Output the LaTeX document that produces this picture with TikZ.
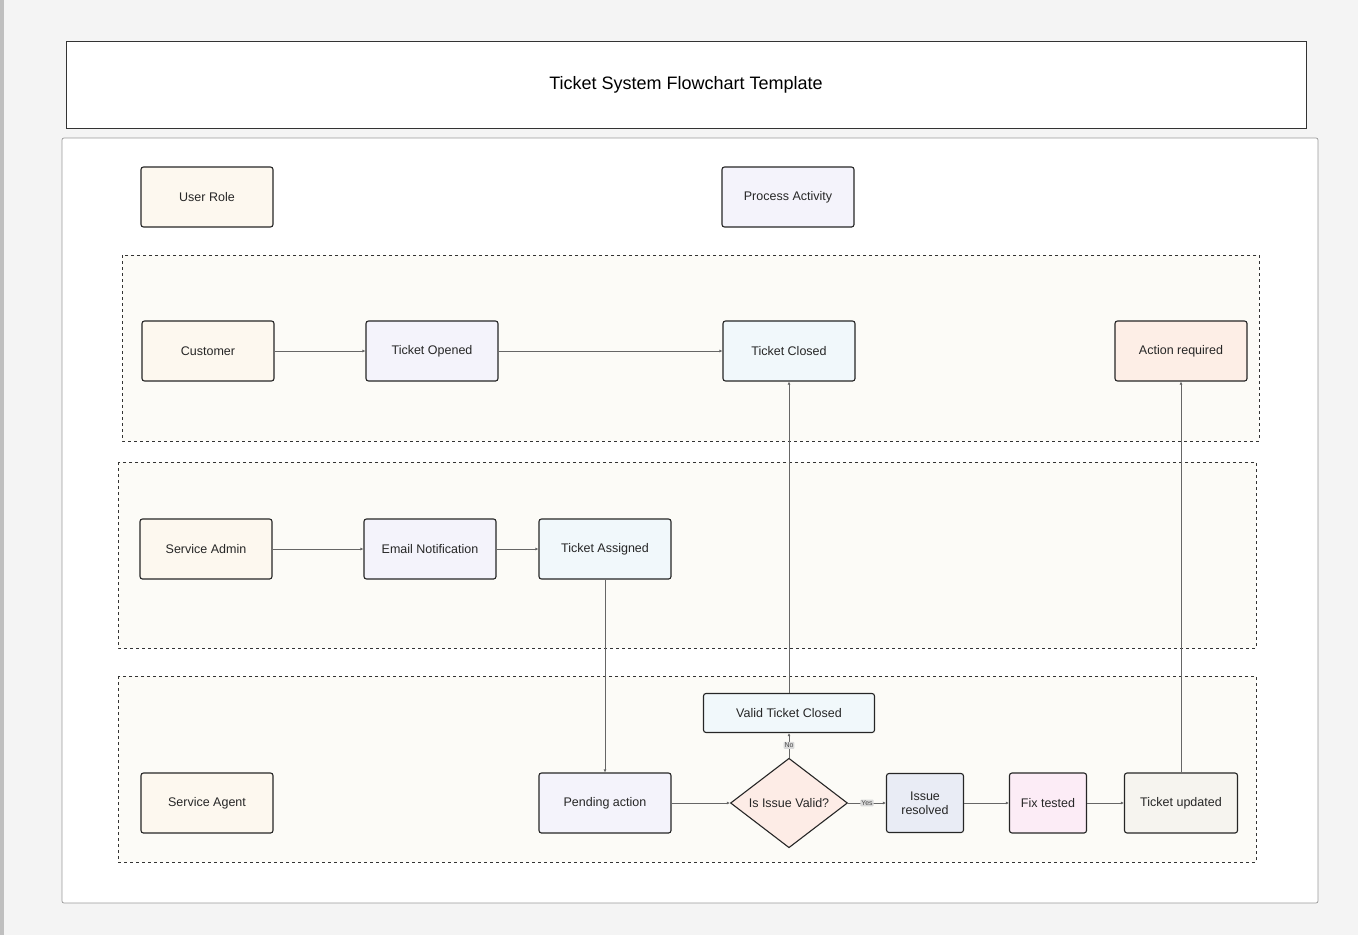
\documentclass[tikz,border=0pt]{standalone}
\usepackage{fontspec}
\setmainfont{Liberation Sans}
\usetikzlibrary{shapes.geometric,arrows.meta}
\definecolor{bg}{HTML}{F4F4F4}
\definecolor{lane}{HTML}{FCFBF7}
\definecolor{cA}{HTML}{FDF8EF}
\definecolor{cB}{HTML}{F4F3FB}
\definecolor{cC}{HTML}{F1F8FB}
\definecolor{cD}{HTML}{FDEEE6}
\definecolor{cE}{HTML}{E9ECF5}
\definecolor{cF}{HTML}{FCECF6}
\definecolor{cG}{HTML}{F6F4EF}
\definecolor{cH}{HTML}{FDECE6}
\begin{document}
\begin{tikzpicture}[x=1pt,y=-1pt,
 box/.style={draw=black!85,line width=1.1pt,rounded corners=2.5pt,minimum width=132pt,minimum height=60pt,inner sep=2pt,font=\fontsize{12.5}{14}\selectfont,text=black!85,align=center},
 lanebox/.style={draw=black!80,dashed,line width=0.8pt,fill=lane},
 con/.style={draw=black!60,line width=0.7pt,-{Latex[length=3pt,width=3pt]}},
 lbl/.style={fill=black!15,rounded corners=1pt,inner sep=1pt,font=\fontsize{7}{8}\selectfont,text=black!70}]
\useasboundingbox (0,0) rectangle (1358,935);
\fill[bg] (0,0) rectangle (1358,935);
\fill[black!25] (0,0) rectangle (4,935);
\draw[black!80,line width=1pt,fill=white] (66,41) rectangle (1306,128);
\node[font=\fontsize{18}{20}\selectfont] (title) at (686,85) {Ticket System Flowchart Template};
\draw[black!40,line width=0.7pt,fill=white,rounded corners=2pt] (62,138) rectangle (1318,903);
\draw[lanebox] (122,255) rectangle (1259,441);
\draw[lanebox] (118,462) rectangle (1256,648);
\draw[lanebox] (118,676) rectangle (1256,862);
\node[box,fill=cA] (role) at (207,197) {User Role};
\node[box,fill=cB] (proc) at (788,197) {Process Activity};
\node[box,fill=cA] (cust) at (208,351) {Customer};
\node[box,fill=cB] (open) at (432,351) {Ticket Opened};
\node[box,fill=cC] (closed) at (789,351) {Ticket Closed};
\node[box,fill=cD] (action) at (1181,351) {Action required};
\node[box,fill=cA] (admin) at (206,549) {Service Admin};
\node[box,fill=cB] (email) at (430,549) {Email Notification};
\node[box,fill=cC] (assigned) at (605,549) {Ticket Assigned};
\node[box,fill=cC,minimum width=171pt,minimum height=39pt] (valid) at (789,713) {Valid Ticket Closed};
\node[box,fill=cA] (agent) at (207,803) {Service Agent};
\node[box,fill=cB] (pending) at (605,803) {Pending action};
\node[diamond,draw=black!85,line width=1.1pt,fill=cH,minimum width=117pt,minimum height=68pt,inner sep=0pt,font=\fontsize{12.5}{14}\selectfont,text=black!85] (dec) at (789,803) {Is Issue Valid?};
\node[box,fill=cE,minimum width=77pt,minimum height=59pt] (res) at (925,803) {Issue\\resolved};
\node[box,fill=cF,minimum width=77pt] (fix) at (1048,803) {Fix tested};
\node[box,fill=cG,minimum width=113pt] (upd) at (1181,803) {Ticket updated};
\draw[con] (cust) -- (open);
\draw[con] (open) -- (closed);
\draw[con] (admin) -- (email);
\draw[con] (email) -- (assigned);
\draw[con] (assigned) -- (pending);
\draw[con] (pending) -- (dec);
\draw[con] (dec) -- node[lbl]{No} (valid);
\draw[con] (dec) -- node[lbl]{Yes} (res);
\draw[con] (res) -- (fix);
\draw[con] (fix) -- (upd);
\draw[con] (valid) -- (closed);
\draw[con] (upd) -- (action);
\end{tikzpicture}
\end{document}
